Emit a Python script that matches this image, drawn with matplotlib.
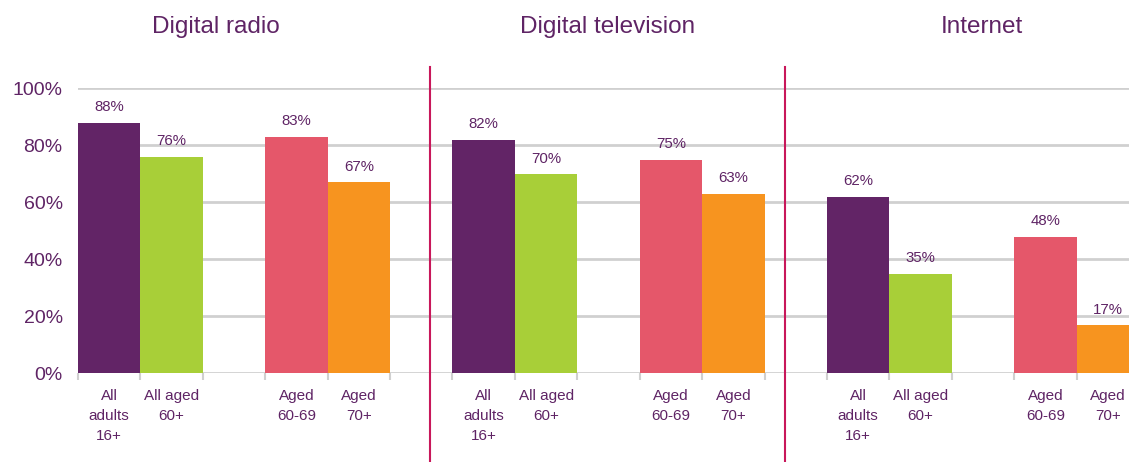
import matplotlib.pyplot as plt
import numpy as np

plt.rcParams['font.family'] = ['Liberation Sans', 'DejaVu Sans']

sections = ["Digital radio", "Digital television", "Internet"]
groups = ["All\nadults\n16+", "All aged\n60+", "Aged\n60-69", "Aged\n70+"]
radio = [88, 76, 83, 67]
television = [82, 70, 75, 63]
internet = [62, 35, 48, 17]
colors = ["#622466", "#a8cf38", "#e5576a", "#f7941f"]

text_col = "#5f2465"
grid_col = "#d0d0d0"
line_col = "#c8175a"

fig = plt.figure(figsize=(11.29, 4.62), dpi=100)
ax = fig.add_axes([0.0691, 0.1916, 0.9309, 0.6173])

# slot positions within each section (slot 2 is a gap)
slot_offsets = [0.5, 1.5, 3.5, 4.5]
section_starts = [0, 6, 12]
title_x = [2.21, 8.49, 14.49]
divider_x = [5.64, 11.33]

for s, vals in enumerate([radio, television, internet]):
    xs = [section_starts[s] + o for o in slot_offsets]
    ax.bar(xs, vals, width=1.0, color=colors, zorder=3)
    for x, v, lab in zip(xs, vals, groups):
        ax.annotate(f"{v}%", (x, v), xytext=(0, 6), textcoords="offset points",
                    ha="center", va="bottom", fontsize=10.8, color=text_col)
        ax.text(x, -5.5, lab, ha="center", va="top", fontsize=11, color=text_col,
                linespacing=1.55)
    ax.text(title_x[s], 121.5, sections[s], ha="center", va="center",
            fontsize=17.5, color=text_col)

for dx in divider_x:
    ax.plot([dx, dx], [-31, 107.5], color=line_col, lw=1.5, clip_on=False, zorder=4)

ax.set_xlim(0, 16.84)
ax.set_ylim(0, 100)
ax.set_yticks(np.arange(0, 101, 20))
ax.set_yticklabels([f"{t}%" for t in range(0, 101, 20)], fontsize=14, color=text_col)
ax.tick_params(axis="y", length=0, pad=11)
ax.yaxis.grid(True, color=grid_col, lw=2, zorder=0)
ax.set_xticks(np.arange(0, 17))
ax.set_xticklabels([])
ax.tick_params(axis="x", length=5, width=1.5, color=grid_col, direction="out")
for sp in ax.spines.values():
    sp.set_visible(False)

fig.savefig("out.png", dpi=100)
